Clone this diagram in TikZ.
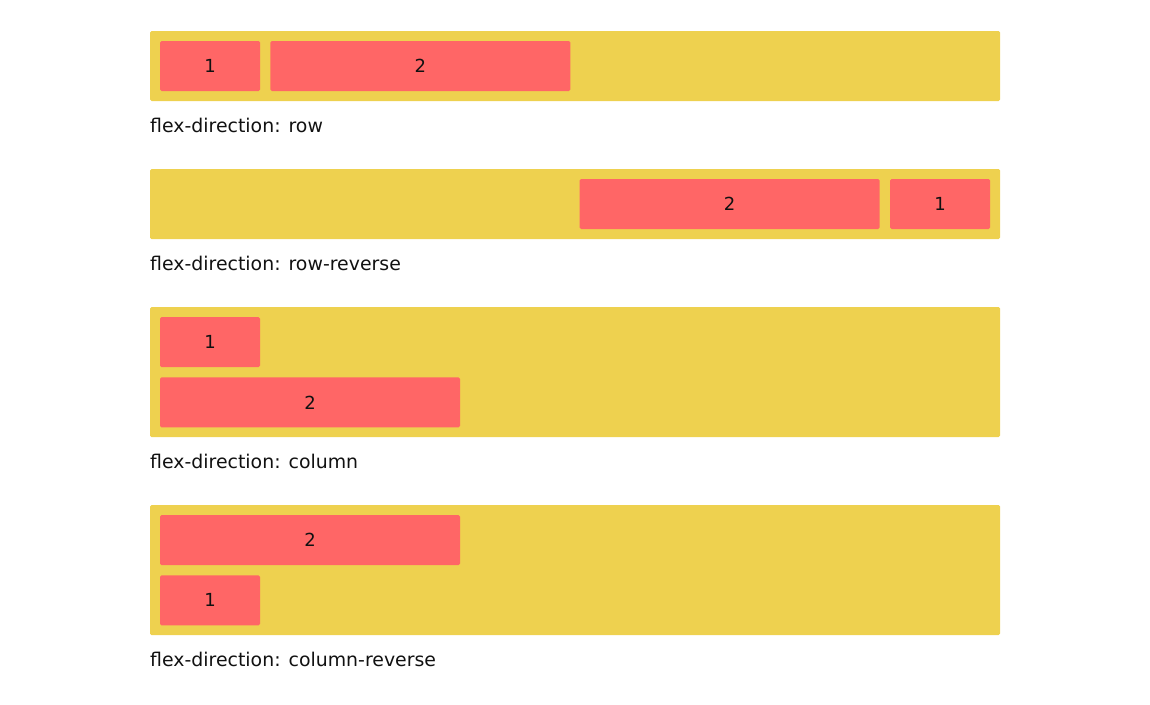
\documentclass[tikz,border=0pt]{standalone}
\usepackage{fontspec}
\setmainfont{DejaVu Sans}
\usepackage{xcolor}
\usepackage{tikz}
\usetikzlibrary{positioning,calc}
\definecolor{flexbg}{HTML}{EED14F}
\definecolor{itembg}{HTML}{FF6666}
\definecolor{ink}{HTML}{111111}

\begin{document}
\begin{tikzpicture}[
  x=1pt, y=-1pt,
  every node/.style={font=\fontsize{18}{22}\selectfont, text=ink},
  flexrow/.style={rectangle, fill=flexbg, rounded corners=1.5pt, minimum width=850pt, minimum height=70pt, inner sep=0pt},
  flexcol/.style={flexrow, minimum height=130pt},
  itemsm/.style={rectangle, fill=itembg, rounded corners=1.5pt, minimum width=100pt, minimum height=50pt, inner sep=0pt},
  itemlg/.style={itemsm, minimum width=300pt},
  caption/.style={anchor=base west, inner sep=0pt, font=\fontsize{18.9}{22}\selectfont}
]
\useasboundingbox (0,0) rectangle (1150,704);

% row
\node[flexrow] (row) at (575,66) {};
\node[itemsm, anchor=north west] (row1) at ([shift={(10pt,-10pt)}]row.north west) {1};
\node[itemlg, right=10pt of row1] (row2) {2};
\node[caption] (rowcap) at (150,132) {flex-direction: row};

% row-reverse
\node[flexrow] (rrev) at (575,204) {};
\node[itemsm, anchor=north east] (rrev1) at ([shift={(-10pt,-10pt)}]rrev.north east) {1};
\node[itemlg, left=10pt of rrev1] (rrev2) {2};
\node[caption] (rrevcap) at (150,270) {flex-direction: row-reverse};

% column
\node[flexcol] (col) at (575,372) {};
\node[itemsm, anchor=north west] (col1) at ([shift={(10pt,-10pt)}]col.north west) {1};
\node[itemlg, below=10pt of col1.south west, anchor=north west] (col2) {2};
\node[caption] (colcap) at (150,468) {flex-direction: column};

% column-reverse
\node[flexcol] (crev) at (575,570) {};
\node[itemlg, anchor=north west] (crev2) at ([shift={(10pt,-10pt)}]crev.north west) {2};
\node[itemsm, below=10pt of crev2.south west, anchor=north west] (crev1) {1};
\node[caption] (crevcap) at (150,666) {flex-direction: column-reverse};
\end{tikzpicture}
\end{document}
